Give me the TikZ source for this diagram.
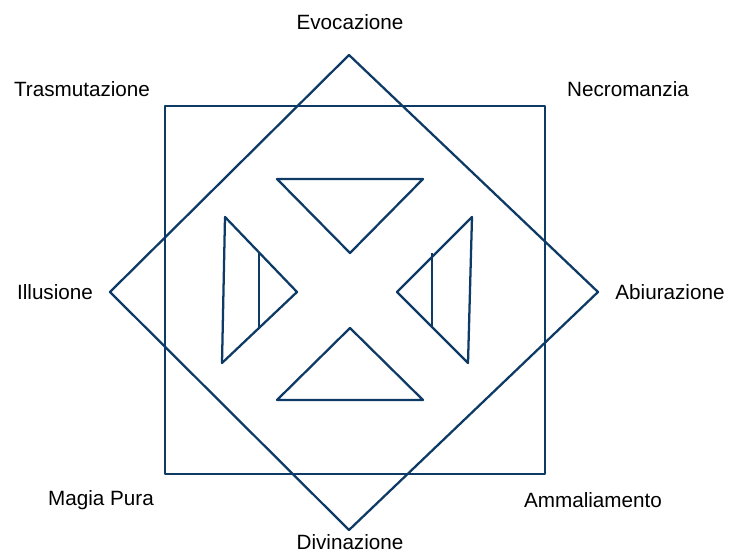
\documentclass[tikz,border=0pt]{standalone}
\usepackage{fontspec}
\setmainfont{Liberation Sans}
\definecolor{navy}{RGB}{14,58,102}
\begin{document}
\begin{tikzpicture}[x=0.75pt,y=-0.75pt,
  shape line/.style={draw=navy,line width=1.7pt,line join=round},
  lbl/.style={inner sep=0pt,font=\fontsize{15.5}{18}\selectfont}]
\useasboundingbox (0,0) rectangle (731,555);
% square
\draw[shape line,line width=2pt] (165,106) rectangle (545,474);
% diamond
\coordinate (dt) at (349,55);
\coordinate (dr) at (598,292);
\coordinate (db) at (349,530);
\coordinate (dl) at (110,292);
\draw[shape line] (dt) -- (dr) -- (db) -- (dl) -- cycle;
% top triangle
\coordinate (t1) at (277,179);
\coordinate (t2) at (423,179);
\coordinate (t3) at (350,253);
\draw[shape line] (t1) -- (t2) -- (t3) -- cycle;
% bottom triangle
\coordinate (b1) at (277,400);
\coordinate (b2) at (423,400);
\coordinate (b3) at (350,328);
\draw[shape line] (b1) -- (b2) -- (b3) -- cycle;
% left shape
\coordinate (l1) at (225,217);
\coordinate (l2) at (222,363);
\coordinate (l3) at (297,292);
\coordinate (l4) at (259,253);
\coordinate (l5) at (259,328);
\draw[shape line] (l1) -- (l2) -- (l3) -- cycle;
\draw[shape line] (l4) -- (l5);
% right shape
\coordinate (r1) at (472,217);
\coordinate (r2) at (468,363);
\coordinate (r3) at (397,292);
\coordinate (r4) at (432,253);
\coordinate (r5) at (432,328);
\draw[shape line] (r1) -- (r2) -- (r3) -- cycle;
\draw[shape line] (r4) -- (r5);
% labels
\node[lbl] (evo) at (350,22) {Evocazione};
\node[lbl] (tra) at (82,89) {Trasmutazione};
\node[lbl] (nec) at (628,89) {Necromanzia};
\node[lbl] (ill) at (55,292) {Illusione};
\node[lbl] (abi) at (670,292) {Abiurazione};
\node[lbl] (mag) at (101,500) {Magia Pura};
\node[lbl] (amm) at (593,500) {Ammaliamento};
\node[lbl,anchor=base] (div) at (350,549) {Divinazione};
\end{tikzpicture}
\end{document}
